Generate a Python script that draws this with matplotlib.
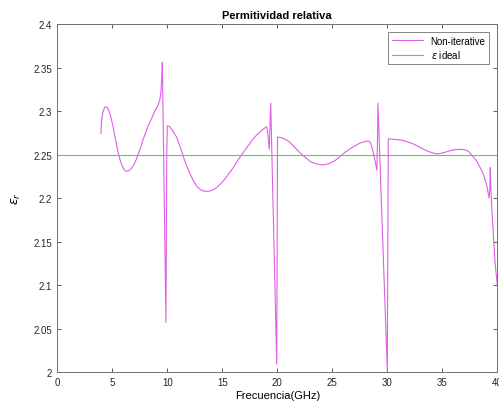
import numpy as np
import matplotlib
matplotlib.use('Agg')
import matplotlib.pyplot as plt
from matplotlib.ticker import FormatStrFormatter

plt.rcParams['font.family'] = ['Liberation Sans', 'DejaVu Sans']
plt.rcParams['mathtext.fontset'] = 'dejavusans'

# frecuencia (GHz) y permitividad
freq = [3.97, 4.0, 4.05, 4.12, 4.2, 4.3, 4.43, 4.55, 4.7, 4.85, 5.0, 5.15, 5.3,
        5.45, 5.6, 5.75, 5.9, 6.05, 6.2, 6.4, 6.6, 6.8, 7.0, 7.2, 7.4, 7.6, 7.8,
        8.0, 8.2, 8.4, 8.6, 8.8, 9.0, 9.2, 9.34, 9.42, 9.49, 9.55, 9.7, 9.88,
        9.95, 10.0,
        10.2, 10.4, 10.6, 10.85, 11.05, 11.3, 11.5, 11.76, 12.0, 12.36, 12.65,
        12.97, 13.3, 13.73, 14.1, 14.5, 14.9, 15.25, 15.6, 16.0, 16.45, 16.9,
        17.35, 17.8, 18.1, 18.4, 18.7, 19.04, 19.15, 19.27, 19.33, 19.4, 19.95,
        20.02,
        20.04, 20.3, 20.55, 20.85, 21.15, 21.45, 21.76, 22.06, 22.36, 22.75,
        23.13, 23.6, 24.18, 24.7, 25.25, 25.7, 26.15, 26.6, 27.06, 27.5, 27.97,
        28.2, 28.4, 28.55, 28.73, 28.9, 29.05, 29.1, 29.15, 30.0, 30.09,
        30.5, 31.0, 31.5, 31.95, 32.4, 32.85, 33.3, 33.75, 34.2, 34.6, 35.1,
        35.7, 36.15, 36.6, 37.0, 37.36, 37.7, 38.1, 38.4, 38.73, 39.05, 39.25,
        39.32, 39.36, 39.42, 39.49, 39.65, 39.8, 40.0]
eps_r = [2.274, 2.283, 2.291, 2.297, 2.301, 2.304, 2.305, 2.304, 2.300, 2.294,
         2.286, 2.277, 2.267, 2.257, 2.249, 2.242, 2.237, 2.233, 2.231, 2.231,
         2.232, 2.235, 2.239, 2.245, 2.252, 2.259, 2.267, 2.274, 2.281, 2.287,
         2.292, 2.298, 2.303, 2.308, 2.314, 2.322, 2.336, 2.356, 2.220, 2.057,
         2.250, 2.283,
         2.282, 2.279, 2.275, 2.270, 2.263, 2.254, 2.246, 2.237, 2.230, 2.220,
         2.214, 2.210, 2.208, 2.2077, 2.209, 2.212, 2.217, 2.222, 2.228, 2.235,
         2.244, 2.2524, 2.260, 2.268, 2.272, 2.2755, 2.279, 2.282, 2.272, 2.256,
         2.280, 2.309, 2.009, 2.270,
         2.270, 2.2695, 2.2685, 2.2665, 2.264, 2.260, 2.256, 2.252, 2.2486,
         2.2445, 2.241, 2.239, 2.238, 2.2395, 2.243, 2.2475, 2.2525, 2.2565,
         2.260, 2.263, 2.265, 2.2655, 2.265, 2.261, 2.252, 2.242, 2.232, 2.260,
         2.309, 2.0015, 2.268,
         2.2675, 2.267, 2.266, 2.264, 2.262, 2.259, 2.256, 2.2535, 2.2515,
         2.2507, 2.252, 2.2544, 2.2555, 2.256, 2.2555, 2.254, 2.249, 2.243,
         2.236, 2.2276, 2.214, 2.200, 2.210, 2.235, 2.210, 2.191, 2.155, 2.125,
         2.100]
ideal_freq = [0, 40]
ideal_eps = [2.25, 2.25]

fig = plt.figure(figsize=(4.99, 4.02), dpi=100)
ax = fig.add_axes([0.1148, 0.0721, 0.8818, 0.8657])

ax.plot(freq, eps_r, color='#e05ee6', lw=0.8, label='Non-iterative')
ax.plot(ideal_freq, ideal_eps, color='#44dd44', lw=0.8, label=r'$\epsilon$ ideal')

ax.set_xlim(0, 40)
ax.set_ylim(2, 2.4)
ax.set_xticks(np.arange(0, 41, 5))
ax.set_yticks(np.arange(2, 2.401, 0.05))
ax.yaxis.set_major_formatter(FormatStrFormatter('%g'))
ax.tick_params(direction='in', length=3, width=0.6, top=True, right=True,
               labelsize=7, colors='#404040', labelcolor='#262626')
for s in ax.spines.values():
    s.set_color('#707070')
    s.set_linewidth(0.7)

ax.set_title('Permitividad relativa', fontsize=8, fontweight='bold', pad=4)
ax.set_xlabel('Frecuencia(GHz)', fontsize=8, labelpad=2)
ax.set_ylabel(r'$\epsilon_r$', fontsize=9, labelpad=8)

leg = ax.legend(loc='upper right', bbox_to_anchor=(0.982, 0.978), borderaxespad=0,
                fontsize=7, fancybox=False, framealpha=1, edgecolor='#707070',
                handlelength=3.2, borderpad=0.4, labelspacing=0.3)
leg.get_frame().set_linewidth(0.6)

fig.savefig('out.png', dpi=100)
